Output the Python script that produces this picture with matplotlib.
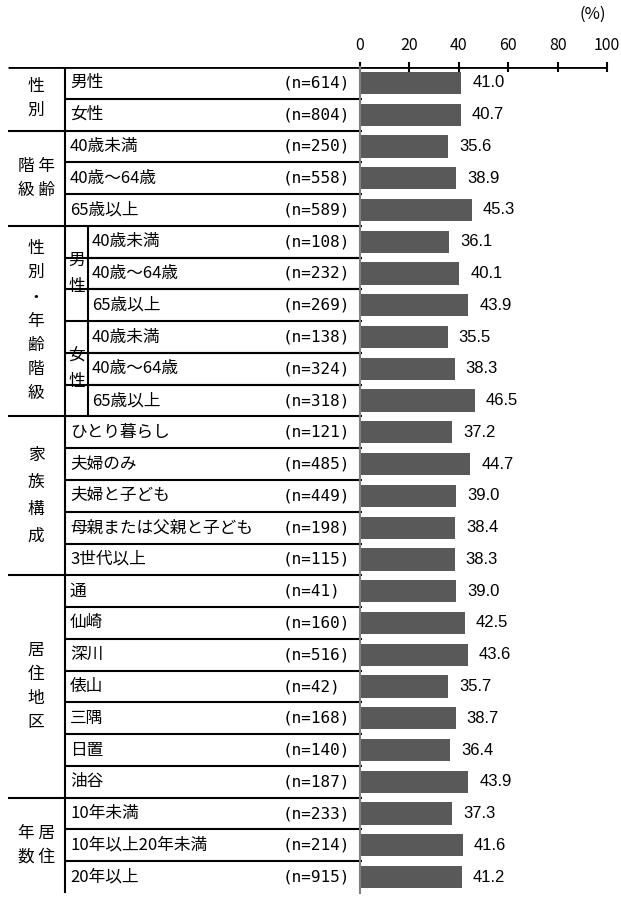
import matplotlib
matplotlib.use("Agg")
import matplotlib.pyplot as plt

plt.rcParams['font.family'] = ['Noto Sans CJK JP', 'DejaVu Sans']

# data
group_labels = ["性\n別", "階 年\n級 齢", "性\n別\n・\n年\n齢\n階\n級", "家\n族\n構\n成", "居\n住\n地\n区", "年 居\n数 住"]
group_sizes = [2, 3, 6, 5, 7, 3]
sub_labels = ["男\n性", "女\n性"]
sub_sizes = [3, 3]
row_labels = ["男性", "女性",
              "40歳未満", "40歳～64歳", "65歳以上",
              "40歳未満", "40歳～64歳", "65歳以上",
              "40歳未満", "40歳～64歳", "65歳以上",
              "ひとり暮らし", "夫婦のみ", "夫婦と子ども", "母親または父親と子ども", "3世代以上",
              "通", "仙崎", "深川", "俵山", "三隅", "日置", "油谷",
              "10年未満", "10年以上20年未満", "20年以上"]
n_counts = [614, 804, 250, 558, 589, 108, 232, 269, 138, 324, 318,
            121, 485, 449, 198, 115, 41, 160, 516, 42, 168, 140, 187,
            233, 214, 915]
values = [41.0, 40.7, 35.6, 38.9, 45.3, 36.1, 40.1, 43.9, 35.5, 38.3, 46.5,
          37.2, 44.7, 39.0, 38.4, 38.3, 39.0, 42.5, 43.6, 35.7, 38.7, 36.4, 43.9,
          37.3, 41.6, 41.2]
ticks = [0, 20, 40, 60, 80, 100]

W, H = 621, 897
top_px, bot_px = 67, 893
x0_px, x1_px = 360, 607
n = len(row_labels)
group_spacing = [1.55, 1.55, 1.55, 1.75, 1.55, 1.55]

fig = plt.figure(figsize=(W / 100, H / 100), dpi=100)

# table axis (x in pixels, y in rows)
tax = fig.add_axes([0, 1 - bot_px / H, 1, (bot_px - top_px) / H])
tax.set_xlim(0, W)
tax.set_ylim(n - 0.5, -0.5)
tax.axis('off')

# bar axis
ax = fig.add_axes([x0_px / W, 1 - bot_px / H, (x1_px - x0_px) / W, (bot_px - top_px) / H])
ax.patch.set_alpha(0)
ax.barh(range(n), values, height=0.7, color='#595959', zorder=2)
ax.set_xlim(0, 100)
ax.set_ylim(n - 0.5, -0.5)
ax.set_yticks([])
ax.set_xticks(ticks)
ax.xaxis.tick_top()
ax.tick_params(axis='x', direction='inout', length=7, width=1.5, pad=6, labelsize=11.5)
for s in ['right', 'bottom', 'top']:
    ax.spines[s].set_visible(False)
ax.spines['left'].set_color('#808080')
ax.spines['left'].set_linewidth(1.5)
for i, v in enumerate(values):
    ax.text(v + 4.5, i, f"{v:.1f}", ha='left', va='center', fontsize=12,
            family='Liberation Sans')

lk = dict(color='black', lw=1.5, solid_capstyle='butt')
# top line
tax.plot([8, x1_px], [-0.5, -0.5], color='black', lw=2, solid_capstyle='butt')
# left vertical
tax.plot([65, 65], [-0.5, n - 0.5], **lk)

# groups
start = 0
for g, size, ls in zip(group_labels, group_sizes, group_spacing):
    if start > 0:
        tax.plot([8, 362], [start - 0.5, start - 0.5], **lk)
    tax.text(36, start + (size - 1) / 2, g, ha='center', va='center', fontsize=12,
             linespacing=ls)
    for r in range(start + 1, start + size):
        tax.plot([65, 362], [r - 0.5, r - 0.5], **lk)
    start += size

# sub-groups within 性別・年齢階級
sub_start = sum(group_sizes[:2])
tax.plot([88, 88], [sub_start - 0.5, sub_start + sum(sub_sizes) - 0.5], **lk)
s0 = sub_start
for sl, size in zip(sub_labels, sub_sizes):
    tax.text(76.5, s0 + (size - 1) / 2, sl, ha='center', va='center', fontsize=12,
             linespacing=1.65)
    for r in range(s0 + 1, s0 + size):
        tax.plot([88, 362], [r - 0.5, r - 0.5], **lk)
    s0 += size

# row labels
for i, (lab, cnt) in enumerate(zip(row_labels, n_counts)):
    lx = 92 if sub_start <= i < sub_start + sum(sub_sizes) else 70
    tax.text(lx, i, lab, ha='left', va='center', fontsize=12)
    tax.text(283, i, f"(n={cnt})", ha='left', va='center', fontsize=11.5,
             family='DejaVu Sans Mono')

fig.text(606 / W, 1 - 14 / H, "(%)", ha='right', va='center', fontsize=12)

fig.savefig("out.png", dpi=100)
